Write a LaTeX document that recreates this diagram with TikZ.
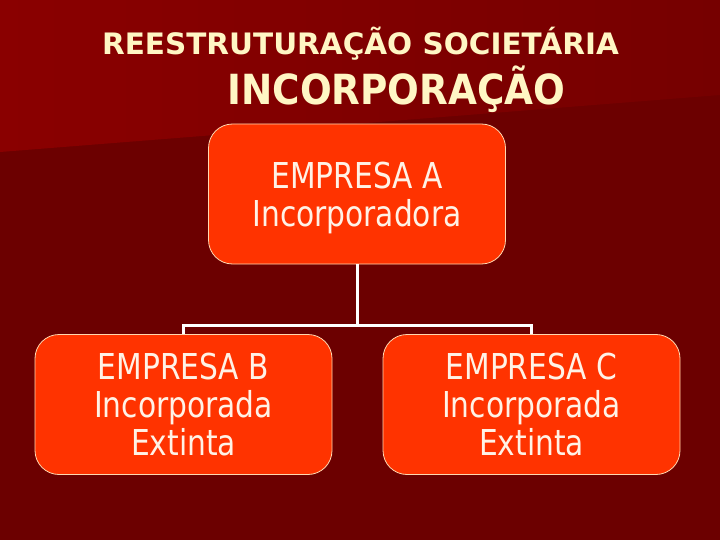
\documentclass[tikz,border=0pt]{standalone}
\usepackage{fontspec}
\setmainfont{DejaVu Sans}
\newfontfamily\condfont{DejaVu Sans Condensed}
\definecolor{bgdark}{HTML}{6C0000}
\definecolor{bgtopright}{HTML}{760000}
\definecolor{bglight}{HTML}{8A0000}
\definecolor{boxfill}{HTML}{FF3300}
\definecolor{boxline}{HTML}{FFD8B0}
\definecolor{titlecol}{HTML}{FFF6C4}
\definecolor{boxtext}{HTML}{FFF2E6}
\newcommand{\bl}[1]{\scalebox{1}[1.08]{#1}}
\begin{document}
\begin{tikzpicture}[x=1pt,y=-1pt,
  orgbox/.style={draw=boxline, line width=0.8pt, fill=boxfill, rounded corners=24pt,
    minimum width=297pt, minimum height=140pt, align=center, text=boxtext,
    font=\condfont\fontsize{33}{38}\selectfont, inner sep=0pt},
  titlestyle/.style={text=titlecol, inner sep=0pt, anchor=base},
  link/.style={draw=white, line width=3pt}]
\useasboundingbox (0,0) rectangle (720,540);
\fill[bgdark] (0,0) rectangle (720,540);
\shade[left color=bglight, right color=bgtopright] (0,0) -- (720,0) -- (720,95) -- (0,152) -- cycle;
\node[titlestyle, font=\bfseries\fontsize{29.5}{32}\selectfont] (t1) at (360.5,55) {REESTRUTURAÇÃO SOCIETÁRIA};
\node[titlestyle, font=\condfont\bfseries\fontsize{41.5}{44}\selectfont] (t2) at (396.5,105) {INCORPORAÇÃO};
\node[orgbox] (A) at (357,194) {\raisebox{-6pt}[\height][\depth]{\begin{tabular}{@{}c@{}}\bl{EMPRESA A}\\\bl{Incorporadora}\end{tabular}}};
\node[orgbox] (B) at (183.5,404.5) {\bl{EMPRESA B}\\\bl{Incorporada}\\\bl{Extinta}};
\node[orgbox] (C) at (531.5,404.5) {\bl{EMPRESA C}\\\bl{Incorporada}\\\bl{Extinta}};
\coordinate (J) at (357,325);
\draw[link] (A.south) -- (J);
\draw[link] (J) -| (B.north);
\draw[link] (J) -| (C.north);
\end{tikzpicture}
\end{document}
